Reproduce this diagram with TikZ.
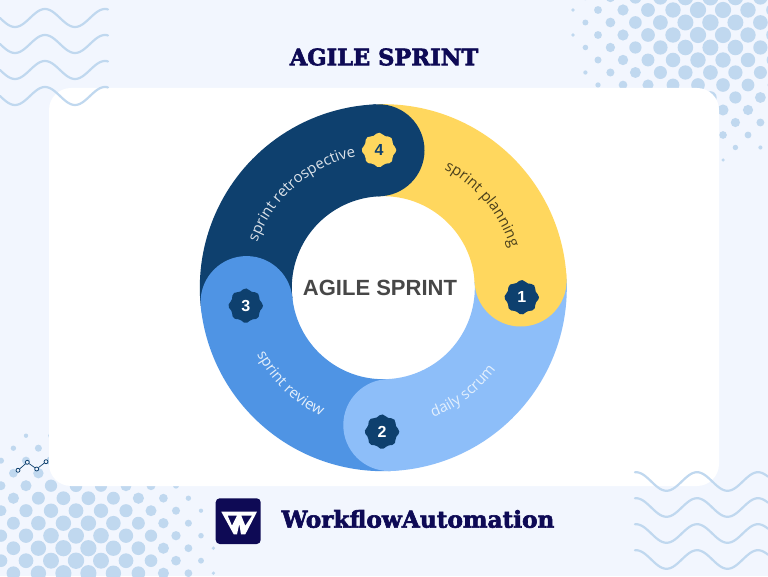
\documentclass[tikz,border=0pt]{standalone}
\usepackage{fontspec}
\setmainfont{Liberation Sans}
\newfontfamily\slabfont{DejaVu Serif}[BoldFeatures={FakeBold=2.6}]
\newfontfamily\arcfont{Open Sans}
\usetikzlibrary{decorations.text}
\definecolor{pagebg}{HTML}{F2F6FE}
\definecolor{dotblue}{HTML}{C0D8EF}
\definecolor{inkblue}{HTML}{0E0A55}
\definecolor{sprintyellow}{HTML}{FFD75E}
\definecolor{sprintsky}{HTML}{8DBEF9}
\definecolor{sprintblue}{HTML}{4F94E4}
\definecolor{sprintnavy}{HTML}{0E406E}
\tikzset{
  sector/.style={line width=92pt},
  wave/.style={dotblue, line width=2.2pt, line cap=round, samples=70, smooth},
  title/.style={text=inkblue, font=\slabfont\bfseries\fontsize{22.6}{23}\selectfont},
  tick/.style={circle, draw=sprintnavy, fill=pagebg, line width=0.8pt, inner sep=0pt, minimum size=4pt},
  arclabel/.style={decorate, decoration={text along path, text align=center, text={#1}}},
}
% scalloped badge with its number
\newcommand{\badge}[5]{
  \fill[#3] plot[smooth cycle, samples=33, domain=0:352] ([shift={(#2)}]\x:{16.2+1.1*cos(8*\x)});
  \node[text=#4, font=\bfseries\fontsize{16}{16}\selectfont] (#1) at (#2) {#5};
}
\begin{document}
\begin{tikzpicture}[x=1pt, y=1pt]
  \useasboundingbox (0, 0) rectangle (768, 576);
  \fill[pagebg] (0, 0) rectangle (768, 576);
  % halftone corners
  \foreach \cx/\cy/\ox/\oy in {710/554/573/566, 76/16/1/140.3} {
    \foreach \i in {-1, ..., 8} {
      \foreach \j in {-1, ..., 12} {
        \foreach \s in {0, 1} {
          \pgfmathsetmacro{\dotx}{\ox + 25*\j + 12.4*\s}
          \pgfmathsetmacro{\doty}{\oy - 25*\i - 12.5*\s}
          \pgfmathsetmacro{\dotd}{veclen(\dotx-\cx, \doty-\cy)}
          \pgfmathparse{\dotd < 140 ? 1 : 0}
          \ifnum\pgfmathresult=1
            \fill[dotblue] (\dotx, \doty) circle ({8.2 - 0.00034*\dotd*\dotd});
          \fi
        }
      }
    }
  }
  \fill[white, rounded corners=22pt] (49, 90) rectangle (719, 488);
  % waves
  \foreach \base in {558, 532, 506, 480} {
    \draw[wave] plot[domain=0:108] (\x, {\base + 9*cos(6*(\x-45))});
  }
  \foreach \base in {94.5, 68.5, 42.5, 16.5} {
    \draw[wave] plot[domain=635:768] (\x, {\base + 9.3*cos(5.9*(\x-636))});
  }
  % ring
  \coordinate (O) at (383.3, 288.3);
  \draw[sector, sprintyellow] (O) ++(92:137.5pt) arc[start angle=92, end angle=3, radius=137.5pt];
  \draw[sector, sprintsky] (O) ++(3:137.5pt) arc[start angle=3, end angle=-87.5, radius=137.5pt];
  \draw[sector, sprintblue] (O) ++(-87.5:137.5pt) arc[start angle=-87.5, end angle=-174, radius=137.5pt];
  \draw[sector, sprintnavy] (O) ++(186:137.5pt) arc[start angle=186, end angle=92, radius=137.5pt];
  \fill[sprintyellow] (O) ++(3:137.5pt) circle(46pt);
  \fill[sprintsky] (O) ++(-87.5:137.5pt) circle(46pt);
  \fill[sprintblue] (O) ++(186:137.5pt) circle(46pt);
  \fill[sprintnavy] (O) ++(92:137.5pt) circle(46pt);
  % curved labels
  \path[arclabel={|\arcfont\fontsize{15}{15}\selectfont\color{black!70!sprintyellow}|sprint planning}] (O) ++(64:133pt) arc[start angle=64, end angle=16, radius=133pt];
  \path[arclabel={|\arcfont\fontsize{15}{15}\selectfont\color{white!85!sprintnavy}|sprint retrospective}] (O) ++(162:134pt) arc[start angle=162, end angle=100, radius=134pt];
  \path[arclabel={|\arcfont\fontsize{15}{15}\selectfont\color{white!85!sprintblue}|sprint review}] (O) ++(205:143pt) arc[start angle=205, end angle=247, radius=143pt];
  \path[arclabel={|\arcfont\fontsize{15}{15}\selectfont\color{white!75!sprintsky}|daily scrum}] (O) ++(-72:139pt) arc[start angle=-72, end angle=-33, radius=139pt];
  \node[text=black!72, font=\bfseries\fontsize{22}{22}\selectfont] (hub) at (380, 288.5) {AGILE SPRINT};
  % numbered badges
  \badge{one}{521.7, 278.7}{sprintnavy}{white}{1}
  \badge{two}{382, 144.3}{sprintnavy}{white}{2}
  \badge{three}{245.7, 270.3}{sprintnavy}{white}{3}
  \badge{four}{379, 426}{sprintyellow}{sprintnavy}{4}
  % titles
  \node[title] (head) at (384, 519) {AGILE SPRINT};
  \node[title, font=\slabfont\bfseries\fontsize{23.2}{24}\selectfont] (brand) at (418, 57) {WorkflowAutomation};
  % logo
  \fill[inkblue, rounded corners=4pt] (215.7, 32) rectangle (260.7, 77.7);
  \fill[white, even odd rule] (221.3, 64.3) -- (257, 64.3) -- (245.3, 41.7) -- (241, 41.7) -- (239.3, 52) -- (237, 41.7) -- (233.7, 41.7) -- cycle
    (227.7, 60.3) -- (237, 60.3) -- (232, 50.3) -- cycle (241.3, 60.3) -- (252, 60.3) -- (245.3, 50.3) -- cycle;
  % small chart mark
  \node[tick] (p1) at (18, 105.7) {};
  \node[tick] (p2) at (27.3, 113.7) {};
  \node[tick] (p3) at (36.7, 107) {};
  \node[tick] (p4) at (46, 114.3) {};
  \draw[sprintnavy, line width=0.7pt] (p1) -- (p2) -- (p3) -- (p4);
\end{tikzpicture}
\end{document}
